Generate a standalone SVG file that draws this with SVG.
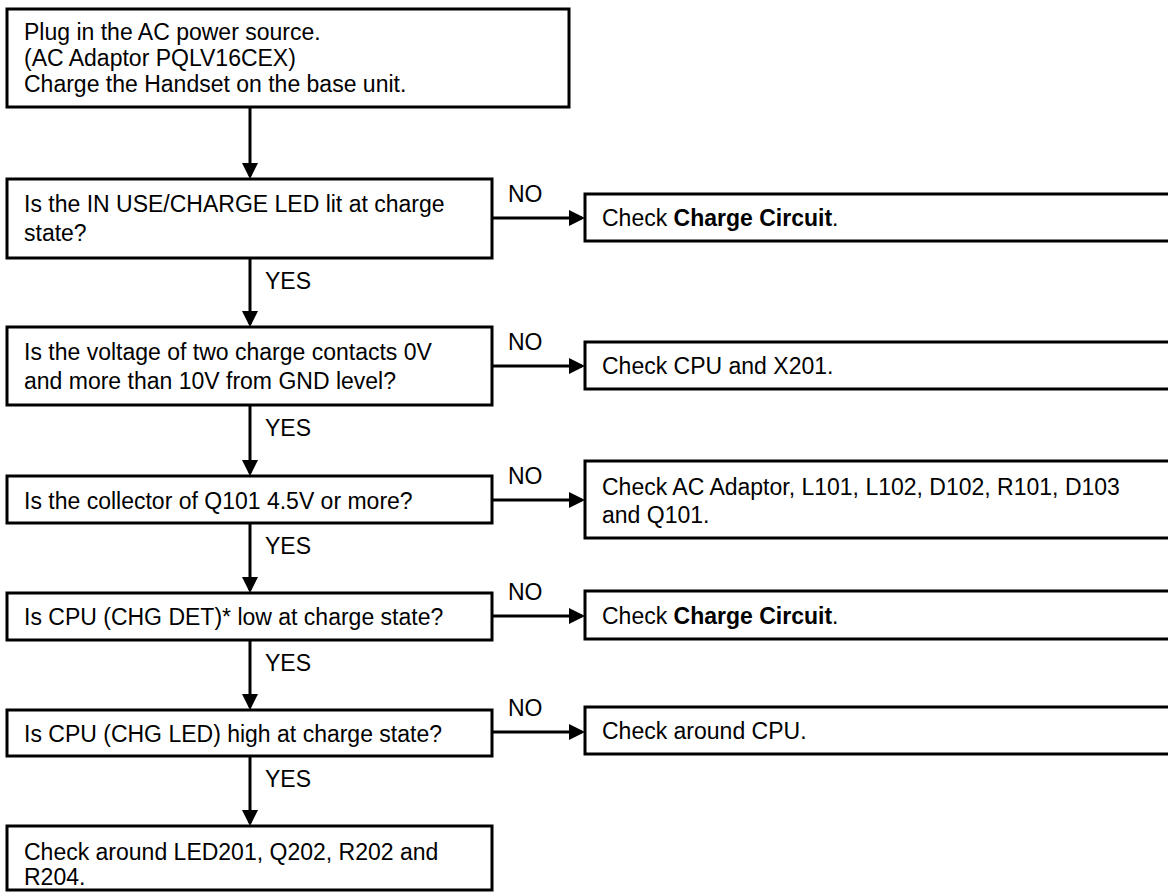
<svg xmlns="http://www.w3.org/2000/svg" width="1168" height="893" viewBox="0 0 1168 893">
<style>
.box{fill:#fff;stroke:#000;stroke-width:3}
.t{font-family:"Liberation Sans",Arial,Helvetica,sans-serif;font-size:23px;fill:#000}
.b{font-weight:bold}
.c{stroke:#000;stroke-width:3;fill:none}
</style>
<defs>
<marker id="ah" viewBox="0 0 16 16" refX="13" refY="8" markerWidth="16" markerHeight="16" markerUnits="userSpaceOnUse" orient="auto">
<path d="M0,0 L16,8 L0,16 z" fill="#000"/>
</marker>
</defs>
<rect width="1168" height="893" fill="#fff"/>
<g id="connectors">
<line class="c" x1="250" y1="107" x2="250" y2="176" marker-end="url(#ah)"/>
<line class="c" x1="250" y1="258" x2="250" y2="324" marker-end="url(#ah)"/>
<line class="c" x1="250" y1="405" x2="250" y2="473" marker-end="url(#ah)"/>
<line class="c" x1="250" y1="523" x2="250" y2="590" marker-end="url(#ah)"/>
<line class="c" x1="250" y1="640" x2="250" y2="707" marker-end="url(#ah)"/>
<line class="c" x1="250" y1="756" x2="250" y2="823" marker-end="url(#ah)"/>
<line class="c" x1="492" y1="218" x2="582" y2="218" marker-end="url(#ah)"/>
<line class="c" x1="492" y1="366" x2="582" y2="366" marker-end="url(#ah)"/>
<line class="c" x1="492" y1="500" x2="582" y2="500" marker-end="url(#ah)"/>
<line class="c" x1="492" y1="616" x2="582" y2="616" marker-end="url(#ah)"/>
<line class="c" x1="492" y1="732" x2="582" y2="732" marker-end="url(#ah)"/>
<text class="t" x="265" y="289">YES</text>
<text class="t" x="265" y="436">YES</text>
<text class="t" x="265" y="554">YES</text>
<text class="t" x="265" y="671">YES</text>
<text class="t" x="265" y="787">YES</text>
<text class="t" x="508" y="202">NO</text>
<text class="t" x="508" y="350">NO</text>
<text class="t" x="508" y="484">NO</text>
<text class="t" x="508" y="600">NO</text>
<text class="t" x="508" y="716">NO</text>
</g>
<g id="n1">
<rect class="box" x="7" y="9" width="562" height="98"/>
<text class="t" x="24" y="40">Plug in the AC power source.</text>
<text class="t" x="24" y="66">(AC Adaptor PQLV16CEX)</text>
<text class="t" x="24" y="92">Charge the Handset on the base unit.</text>
</g>
<g id="n2">
<rect class="box" x="7" y="179" width="485" height="79"/>
<text class="t" x="24" y="212">Is the IN USE/CHARGE LED lit at charge</text>
<text class="t" x="24" y="241">state?</text>
</g>
<g id="r1">
<rect class="box" x="585" y="194" width="600" height="47"/>
<text class="t" x="602" y="226">Check <tspan class="b">Charge Circuit</tspan>.</text>
</g>
<g id="n3">
<rect class="box" x="7" y="327" width="485" height="78"/>
<text class="t" x="24" y="360">Is the voltage of two charge contacts 0V</text>
<text class="t" x="24" y="389">and more than 10V from GND level?</text>
</g>
<g id="r3">
<rect class="box" x="585" y="342" width="600" height="47"/>
<text class="t" x="602" y="374">Check CPU and X201.</text>
</g>
<g id="n4">
<rect class="box" x="7" y="476" width="485" height="47"/>
<text class="t" x="24" y="509">Is the collector of Q101 4.5V or more?</text>
</g>
<g id="r4">
<rect class="box" x="585" y="461" width="600" height="77"/>
<text class="t" x="602" y="495">Check AC Adaptor, L101, L102, D102, R101, D103</text>
<text class="t" x="602" y="523">and Q101.</text>
</g>
<g id="n5">
<rect class="box" x="7" y="593" width="485" height="47"/>
<text class="t" x="24" y="625">Is CPU (CHG DET)* low at charge state?</text>
</g>
<g id="r5">
<rect class="box" x="585" y="591" width="600" height="48"/>
<text class="t" x="602" y="624">Check <tspan class="b">Charge Circuit</tspan>.</text>
</g>
<g id="n6">
<rect class="box" x="7" y="710" width="485" height="46"/>
<text class="t" x="24" y="742">Is CPU (CHG LED) high at charge state?</text>
</g>
<g id="r6">
<rect class="box" x="585" y="707" width="600" height="47"/>
<text class="t" x="602" y="739">Check around CPU.</text>
</g>
<g id="n7">
<rect class="box" x="7" y="826" width="485" height="64"/>
<text class="t" x="24" y="860">Check around LED201, Q202, R202 and</text>
<text class="t" x="24" y="885">R204.</text>
</g>
</svg>
